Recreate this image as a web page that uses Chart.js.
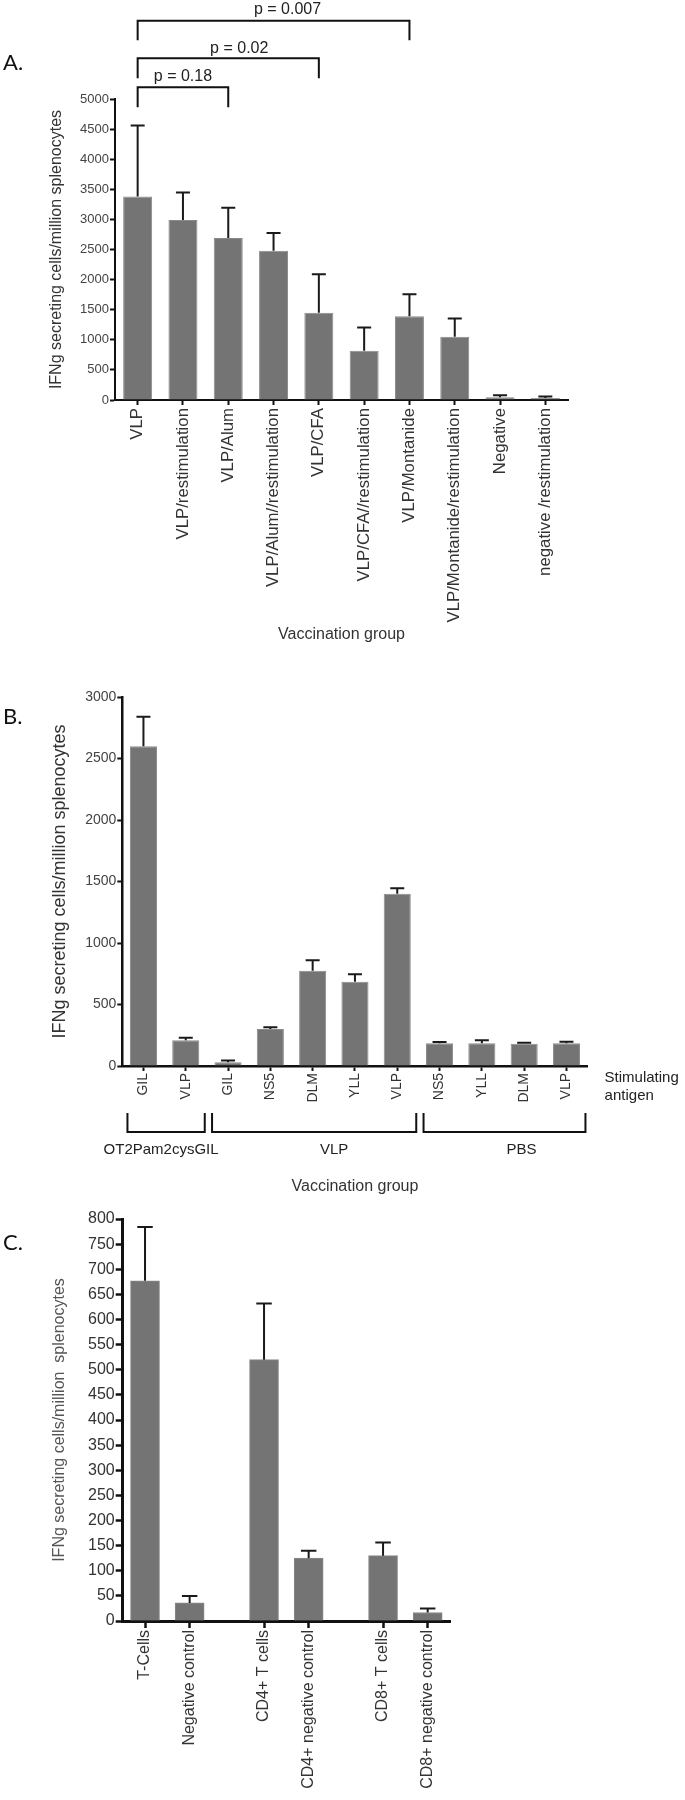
<!DOCTYPE html>
<html><head><meta charset="utf-8">
<script src="https://cdn.jsdelivr.net/npm/chart.js@4.4.1/dist/chart.umd.min.js"></script>
<style>
html,body{margin:0;padding:0;background:#fff;}
#wrap{position:relative;width:685px;height:1800px;overflow:hidden;}
canvas{position:absolute;left:0;top:0;}
</style></head><body>
<div id="wrap">
<canvas id="cA" width="685" height="1800"></canvas>
<canvas id="cB" width="685" height="1800"></canvas>
<canvas id="cC" width="685" height="1800"></canvas>
</div>
<script>
// ---------------- DATA ----------------
// Panel A
const aCategories = ['VLP','VLP/restimulation','VLP/Alum','VLP/Alum//restimulation','VLP/CFA','VLP/CFA//restimulation','VLP/Montanide','VLP/Montanide/restimulation','Negative','negative /restimulation'];
const aValues = [3380, 2990, 2690, 2480, 1450, 820, 1390, 1050, 45, 35];
const aErrors = [1180, 455, 505, 295, 640, 385, 365, 305, 35, 25];
const aComparisons = [
  {from: 0, to: 2, label: 'p = 0.18'},
  {from: 0, to: 4, label: 'p = 0.02'},
  {from: 0, to: 6, label: 'p = 0.007'}
];
const aYTitle = 'IFNg secreting cells/million splenocytes';
const aXTitle = 'Vaccination group';

// Panel B
const bCategories = ['GIL','VLP','GIL','NS5','DLM','YLL','VLP','NS5','YLL','DLM','VLP'];
const bValues = [2600, 210, 30, 300, 775, 685, 1400, 185, 185, 180, 185];
const bErrors = [240, 20, 15, 15, 85, 60, 45, 10, 25, 10, 12];
const bGroups = [
  {label: 'OT2Pam2cysGIL', from: 0, to: 1},
  {label: 'VLP', from: 2, to: 6},
  {label: 'PBS', from: 7, to: 10}
];
const bSideLabel = ['Stimulating', 'antigen'];
const bYTitle = 'IFNg secreting cells/million splenocytes';
const bXTitle = 'Vaccination group';

// Panel C
const cCategories = ['T-Cells','Negative control','CD4+ T cells','CD4+ negative control','CD8+ T cells','CD8+ negative control'];
const cValues = [677, 36, 520, 125, 130, 17];
const cErrors = [107, 14, 112, 15, 26, 8];
const cYTitle = 'IFNg secreting cells/million  splenocytes';

// ---------------- LAYOUT / STYLE ----------------
const FONT = "'Liberation Sans', Arial, sans-serif";
const BAR = '#747474';
const BAR_EDGE = '#8a8a8a';
const INK = '#111';
const TXT = '#333';
// C: bars sit on a finer slot grid to reproduce the paired spacing
const cSlots = [1, 4, 9, 12, 17, 20];
const cSlotCount = 22;
const cLabels = new Array(cSlotCount).fill('');
const cData = new Array(cSlotCount).fill(null);
const cErr = new Array(cSlotCount).fill(null);
cSlots.forEach((s, i) => { cLabels[s] = cCategories[i]; cData[s] = cValues[i]; cErr[s] = cErrors[i]; });

Chart.defaults.font.family = FONT;
Chart.defaults.color = TXT;
Chart.defaults.animation = false;

const plainTick = (v) => String(v);

function makeErrorPlugin(vals, errs, cap, lw) {
  return {
    id: 'errbars',
    afterDatasetsDraw(chart) {
      const meta = chart.getDatasetMeta(0);
      const y = chart.scales.y;
      const ctx = chart.ctx;
      ctx.save();
      ctx.strokeStyle = '#1a1a1a';
      ctx.lineWidth = lw;
      vals.forEach((v, i) => {
        if (v == null) return;
        const bar = meta.data[i];
        const yt = y.getPixelForValue(v + errs[i]);
        ctx.beginPath();
        ctx.moveTo(bar.x, bar.y);
        ctx.lineTo(bar.x, yt);
        ctx.moveTo(bar.x - cap / 2, yt);
        ctx.lineTo(bar.x + cap / 2, yt);
        ctx.stroke();
      });
      ctx.restore();
    }
  };
}

function fixSize(w) { return (s) => { s.width = w; }; }
function fixHeight(h) { return (s) => { s.height = h; }; }

// ---------- Panel A ----------
const aBracketStyle = [
  {dy: -11.7, leg: 20, ty: -10.5, dx: 0},
  {dy: -40.7, leg: 20, ty: -9.5, dx: 11},
  {dy: -78.3, leg: 19.5, ty: -11, dx: 14}
];
const aPlugin = {
  id: 'aDecor',
  afterDraw(chart) {
    const {ctx, chartArea, scales: {x}} = chart;
    ctx.save();
    ctx.strokeStyle = INK; ctx.lineWidth = 2;
    ctx.fillStyle = '#222';
    ctx.font = '16px ' + FONT;
    ctx.textAlign = 'center'; ctx.textBaseline = 'middle';
    aComparisons.forEach((c, i) => {
      const st = aBracketStyle[i];
      const x1 = x.getPixelForValue(c.from), x2 = x.getPixelForValue(c.to);
      const yy = chartArea.top + st.dy;
      ctx.beginPath();
      ctx.moveTo(x1, yy + st.leg); ctx.lineTo(x1, yy); ctx.lineTo(x2, yy); ctx.lineTo(x2, yy + st.leg);
      ctx.stroke();
      ctx.fillText(c.label, (x1 + x2) / 2 + st.dx, yy + st.ty);
    });
    ctx.font = '22px Lato, ' + FONT;
    ctx.textAlign = 'left';
    ctx.fillStyle = '#111';
    ctx.fillText('A.', 3, 63);
    ctx.restore();
  }
};

new Chart(document.getElementById('cA'), {
  type: 'bar',
  data: { labels: aCategories, datasets: [{ data: aValues, backgroundColor: BAR, borderColor: BAR_EDGE, borderWidth: 1, categoryPercentage: 1, barPercentage: 0.64 }] },
  options: {
    responsive: false,
    layout: { padding: { top: 99, left: 0, right: 117, bottom: 1120 } },
    plugins: { legend: { display: false }, tooltip: { enabled: false } },
    scales: {
      x: {
        afterFit: fixHeight(280),
        grid: { display: true, drawOnChartArea: false, offset: false, tickLength: 5, tickColor: INK, tickWidth: 2 },
        border: { display: true, color: INK, width: 2 },
        ticks: { autoSkip: false, minRotation: 90, maxRotation: 90, padding: 3, font: { size: 16.8 }, color: TXT },
        title: { display: true, text: aXTitle, font: { size: 16 }, color: TXT, padding: { top: 0, bottom: 35.4 } }
      },
      y: {
        min: 0, max: 5000,
        afterFit: fixSize(115),
        grid: { display: true, drawOnChartArea: false, tickLength: 5, tickColor: INK, tickWidth: 2 },
        border: { display: true, color: INK, width: 2 },
        ticks: { stepSize: 500, padding: 1, font: { size: 13 }, color: '#444', callback: plainTick },
        title: { display: true, text: aYTitle, font: { size: 16 }, color: TXT, padding: { top: 46.9, bottom: 0 } }
      }
    }
  },
  plugins: [makeErrorPlugin(aValues, aErrors, 14, 2), aPlugin]
});

// ---------- Panel B ----------
const bGroupStyle = { x1: -16, x2: 19, legTop: 47, base: 66, labelY: 84, labelDx: [-5, 20, 17] };
const bPlugin = {
  id: 'bDecor',
  afterDraw(chart) {
    const {ctx, chartArea, scales: {x}} = chart;
    ctx.save();
    ctx.strokeStyle = INK; ctx.lineWidth = 2;
    ctx.fillStyle = '#222';
    ctx.font = '15px ' + FONT;
    ctx.textAlign = 'center'; ctx.textBaseline = 'middle';
    bGroups.forEach((g, i) => {
      const x1 = x.getPixelForValue(g.from) + bGroupStyle.x1;
      const x2 = x.getPixelForValue(g.to) + bGroupStyle.x2;
      const yb = chartArea.bottom + bGroupStyle.base;
      const yt = chartArea.bottom + bGroupStyle.legTop;
      ctx.beginPath();
      ctx.moveTo(x1, yt); ctx.lineTo(x1, yb); ctx.lineTo(x2, yb); ctx.lineTo(x2, yt);
      ctx.stroke();
      ctx.fillText(g.label, (x1 + x2) / 2 + bGroupStyle.labelDx[i], chartArea.bottom + bGroupStyle.labelY);
    });
    ctx.textAlign = 'left';
    bSideLabel.forEach((t, i) => ctx.fillText(t, chartArea.right + 17, chartArea.bottom + 12 + i * 18));
    ctx.font = '22px Lato, ' + FONT;
    ctx.fillStyle = '#111';
    ctx.fillText('B.', 3, 717);
    ctx.restore();
  }
};

new Chart(document.getElementById('cB'), {
  type: 'bar',
  data: { labels: bCategories, datasets: [{ data: bValues, backgroundColor: BAR, borderColor: BAR_EDGE, borderWidth: 1, categoryPercentage: 1, barPercentage: 0.64 }] },
  options: {
    responsive: false,
    layout: { padding: { top: 697, left: 0, right: 97.4, bottom: 590 } },
    plugins: { legend: { display: false }, tooltip: { enabled: false } },
    scales: {
      x: {
        afterFit: fixHeight(144),
        grid: { display: true, drawOnChartArea: false, offset: false, tickLength: 5, tickColor: INK, tickWidth: 2 },
        border: { display: true, color: INK, width: 2.5 },
        ticks: { autoSkip: false, minRotation: 90, maxRotation: 90, padding: 2, font: { size: 14 }, color: TXT },
        title: { display: true, text: bXTitle, font: { size: 16 }, color: TXT, padding: { top: 0, bottom: 13.4 } }
      },
      y: {
        min: 0, max: 3000,
        afterFit: fixSize(122.3),
        grid: { display: true, drawOnChartArea: false, tickLength: 5, tickColor: INK, tickWidth: 2 },
        border: { display: true, color: INK, width: 2.5 },
        ticks: { stepSize: 500, padding: 1, font: { size: 14 }, color: '#444', callback: plainTick },
        title: { display: true, text: bYTitle, font: { size: 18 }, color: TXT, padding: { top: 49.5, bottom: 0 } }
      }
    }
  },
  plugins: [makeErrorPlugin(bValues, bErrors, 14, 2), bPlugin]
});

// ---------- Panel C ----------
const cPlugin = {
  id: 'cDecor',
  afterDraw(chart) {
    const ctx = chart.ctx;
    ctx.save();
    ctx.font = '22px Lato, ' + FONT;
    ctx.fillStyle = '#111';
    ctx.textBaseline = 'middle';
    ctx.fillText('C.', 3, 1243);
    ctx.restore();
  }
};

new Chart(document.getElementById('cC'), {
  type: 'bar',
  data: { labels: cLabels, datasets: [{ data: cData, backgroundColor: BAR, borderColor: BAR_EDGE, borderWidth: 1, barThickness: 29 }] },
  options: {
    responsive: false,
    layout: { padding: { top: 1219, left: 0, right: 235, bottom: 0 } },
    plugins: { legend: { display: false }, tooltip: { enabled: false } },
    scales: {
      x: {
        afterFit: fixHeight(179),
        grid: { display: true, drawOnChartArea: false, offset: false, tickLength: 7,
                tickColor: (c) => (cLabels[c.index] ? INK : 'rgba(0,0,0,0)'), tickWidth: 2.5 },
        border: { display: true, color: INK, width: 3 },
        ticks: { autoSkip: false, minRotation: 90, maxRotation: 90, padding: 2, font: { size: 16 }, color: TXT }
      },
      y: {
        min: 0, max: 800,
        afterFit: fixSize(122.7),
        grid: { display: true, drawOnChartArea: false, tickLength: 7, tickColor: INK, tickWidth: 2.5 },
        border: { display: true, color: INK, width: 3 },
        ticks: { stepSize: 50, padding: 1, font: { size: 16 }, color: '#333', callback: plainTick },
        title: { display: true, text: cYTitle, font: { size: 16 }, color: '#555', padding: { top: 50, bottom: 0 } }
      }
    }
  },
  plugins: [makeErrorPlugin(cData, cErr, 15.5, 2), cPlugin]
});
</script>
</body></html>
